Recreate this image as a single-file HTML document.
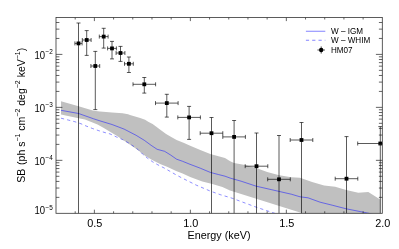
<!DOCTYPE html><html><head><meta charset="utf-8"><style>html,body{margin:0;padding:0;background:#fff}svg{display:block;will-change:transform}text{font-family:"Liberation Sans",sans-serif;fill:#000}</style></head><body>
<svg width="399" height="249" viewBox="0 0 399 249">
<rect width="399" height="249" fill="#fff"/>
<defs><clipPath id="c"><rect x="56.0" y="17.5" width="326.3" height="195.8"/></clipPath></defs>
<g clip-path="url(#c)">
<polygon fill="#c0c0c0" points="61,101.3 78.6,106.3 93.6,110.7 100,111.6 112,112.4 122.6,113.3 128.1,114.2 130,115 140.2,118.1 145.1,119.8 148.2,121.7 152.6,124 156,126.5 160.3,129.8 166.1,134 170.4,136.5 176.6,140 184.1,143 190.2,145.7 200.3,150.1 210.3,154.1 220.4,156.8 225,158.1 230.2,161.2 234,163.1 245.1,165.1 256.2,168.1 267.2,172.1 279.3,175.2 291.3,177.2 300,177.7 312.1,182.1 324.1,185.5 335.2,186.7 346.2,190.1 358.3,192.7 368.3,192.1 380.2,199.6 380.2,240 303,213.5 300,212.5 230,190.5 222.4,187.1 212.3,184.1 202.3,181.5 190.2,177 182.6,173.5 176.1,171 167.6,167.1 160.1,164.1 152.6,160.3 145,155.8 137.5,149.8 130.1,144.8 122.6,139.8 116.3,135.6 110,131.7 103.8,128.1 97.5,124.6 91.3,121.9 85,119.4 78.6,118.2 61,114.4"/>
<polyline fill="none" stroke="#1c1cff" stroke-width="0.55" points="61,110.3 78.6,113.5 93.6,118.8 100,120.9 112,124.5 124.1,129.1 136.1,135.3 144.3,140.3 151.1,145.3 157.1,149.3 164.6,151.3 170.6,155 176.6,159.2 182.6,161.3 190,164.3 200.3,168.2 210.3,172.4 218.3,174.5 225,176.2 230.2,178.1 241.1,181.2 256.2,186.2 271.2,189.6 279,191.4 291.3,194.2 300,196.8 308,197.8 320.1,202.2 332.2,205.2 346.2,208.8 360.3,211.6 368.3,213.2 380,216"/>
<polyline fill="none" stroke="#1c1cff" stroke-width="0.5" stroke-dasharray="3.2,3.1" points="61,118.2 68.5,120.1 74.8,121.7 81.1,123.8 86.1,126 92.5,128.5 98.8,130.7 105,132.6 110,133.9 116.3,136.9 122.6,139.6 130.1,143.8 138.3,149.8 142.8,154.3 147.3,158 152.6,161.8 157.8,164.8 163.8,167.8 169.1,170.8 175.1,174.3 182.2,178.1 196.2,185.1 210.3,191.1 220.4,194.7 230.2,197.6 232.6,198.4 256.3,207.2 274.7,213.3 285,217"/>
<path d="M78.5,23V218.3M74.9,43.4H82.1M76.5,23h4.0M74.9,41.4v4.0M82.1,41.4v4.0" stroke="#000" stroke-width="0.65" fill="none"/>
<rect x="76.6" y="41.5" width="3.8" height="3.8" fill="#000"/>
<path d="M86.7,30.6V55.4M82.3,40.0H91.10000000000001M84.7,30.6h4.0M82.3,38.0v4.0M91.10000000000001,38.0v4.0M84.7,55.4h4.0" stroke="#000" stroke-width="0.65" fill="none"/>
<rect x="84.8" y="38.1" width="3.8" height="3.8" fill="#000"/>
<path d="M95.3,51.4V109.6M90.89999999999999,66.0H99.7M93.3,51.4h4.0M90.89999999999999,64.0v4.0M99.7,64.0v4.0M93.3,109.6h4.0" stroke="#000" stroke-width="0.65" fill="none"/>
<rect x="93.39999999999999" y="64.1" width="3.8" height="3.8" fill="#000"/>
<path d="M103.7,28.3V48.1M99.3,36.6H108.10000000000001M101.7,28.3h4.0M99.3,34.6v4.0M108.10000000000001,34.6v4.0M101.7,48.1h4.0" stroke="#000" stroke-width="0.65" fill="none"/>
<rect x="101.8" y="34.7" width="3.8" height="3.8" fill="#000"/>
<path d="M112.0,41.4V58.9M107.6,48.4H116.4M110.0,41.4h4.0M107.6,46.4v4.0M116.4,46.4v4.0M110.0,58.9h4.0" stroke="#000" stroke-width="0.65" fill="none"/>
<rect x="110.1" y="46.5" width="3.8" height="3.8" fill="#000"/>
<path d="M120.5,46.4V61.4M116.1,53.0H124.9M118.5,46.4h4.0M116.1,51.0v4.0M124.9,51.0v4.0M118.5,61.4h4.0" stroke="#000" stroke-width="0.65" fill="none"/>
<rect x="118.6" y="51.1" width="3.8" height="3.8" fill="#000"/>
<path d="M128.9,57V72.5M124.5,63.8H133.3M126.9,57h4.0M124.5,61.8v4.0M133.3,61.8v4.0M126.9,72.5h4.0" stroke="#000" stroke-width="0.65" fill="none"/>
<rect x="127.0" y="61.9" width="3.8" height="3.8" fill="#000"/>
<path d="M144.3,77.5V93.1M133.0,84.3H155.60000000000002M142.3,77.5h4.0M133.0,82.3v4.0M155.60000000000002,82.3v4.0M142.3,93.1h4.0" stroke="#000" stroke-width="0.65" fill="none"/>
<rect x="142.4" y="82.39999999999999" width="3.8" height="3.8" fill="#000"/>
<path d="M166.8,94.3V117.1M155.5,103.1H178.10000000000002M164.8,94.3h4.0M155.5,101.1v4.0M178.10000000000002,101.1v4.0M164.8,117.1h4.0" stroke="#000" stroke-width="0.65" fill="none"/>
<rect x="164.9" y="101.19999999999999" width="3.8" height="3.8" fill="#000"/>
<path d="M189.1,106.4V139.4M177.79999999999998,117.4H200.4M187.1,106.4h4.0M177.79999999999998,115.4v4.0M200.4,115.4v4.0M187.1,139.4h4.0" stroke="#000" stroke-width="0.65" fill="none"/>
<rect x="187.2" y="115.5" width="3.8" height="3.8" fill="#000"/>
<path d="M211.5,117.5V218.3M200.2,133.2H222.8M209.5,117.5h4.0M200.2,131.2v4.0M222.8,131.2v4.0" stroke="#000" stroke-width="0.65" fill="none"/>
<rect x="209.6" y="131.29999999999998" width="3.8" height="3.8" fill="#000"/>
<path d="M234.1,120.5V218.3M222.79999999999998,136.9H245.4M232.1,120.5h4.0M222.79999999999998,134.9v4.0M245.4,134.9v4.0" stroke="#000" stroke-width="0.65" fill="none"/>
<rect x="232.2" y="135.0" width="3.8" height="3.8" fill="#000"/>
<path d="M256.5,133.0V218.3M245.2,166.2H267.8M254.5,133.0h4.0M245.2,164.2v4.0M267.8,164.2v4.0" stroke="#000" stroke-width="0.65" fill="none"/>
<rect x="254.6" y="164.29999999999998" width="3.8" height="3.8" fill="#000"/>
<path d="M279.0,135.5V218.3M267.7,179.3H290.3M277.0,135.5h4.0M267.7,177.3v4.0M290.3,177.3v4.0" stroke="#000" stroke-width="0.65" fill="none"/>
<rect x="277.1" y="177.4" width="3.8" height="3.8" fill="#000"/>
<path d="M301.5,122.5V218.3M290.2,140.0H312.8M299.5,122.5h4.0M290.2,138.0v4.0M312.8,138.0v4.0" stroke="#000" stroke-width="0.65" fill="none"/>
<rect x="299.6" y="138.1" width="3.8" height="3.8" fill="#000"/>
<path d="M346.5,136.6V218.3M335.2,178.7H357.8M344.5,136.6h4.0M335.2,176.7v4.0M357.8,176.7v4.0" stroke="#000" stroke-width="0.65" fill="none"/>
<rect x="344.6" y="176.79999999999998" width="3.8" height="3.8" fill="#000"/>
<path d="M380.3,126.6V218.3M357.7,143.5H402.90000000000003M378.3,126.6h4.0M357.7,141.5v4.0M402.90000000000003,141.5v4.0" stroke="#000" stroke-width="0.65" fill="none"/>
<rect x="378.40000000000003" y="141.6" width="3.8" height="3.8" fill="#000"/>
</g>
<path d="M75.19,213.3v-2.0M75.19,17.5v2.0M94.39,213.3v-3.6M94.39,17.5v3.6M113.58,213.3v-2.0M113.58,17.5v2.0M132.78,213.3v-2.0M132.78,17.5v2.0M151.97,213.3v-2.0M151.97,17.5v2.0M171.16,213.3v-2.0M171.16,17.5v2.0M190.36,213.3v-3.6M190.36,17.5v3.6M209.55,213.3v-2.0M209.55,17.5v2.0M228.75,213.3v-2.0M228.75,17.5v2.0M247.94,213.3v-2.0M247.94,17.5v2.0M267.14,213.3v-2.0M267.14,17.5v2.0M286.33,213.3v-3.6M286.33,17.5v3.6M305.52,213.3v-2.0M305.52,17.5v2.0M324.72,213.3v-2.0M324.72,17.5v2.0M343.91,213.3v-2.0M343.91,17.5v2.0M363.11,213.3v-2.0M363.11,17.5v2.0M56.0,197.36h3.4M382.3,197.36h-3.4M56.0,188.04h3.4M382.3,188.04h-3.4M56.0,181.42h3.4M382.3,181.42h-3.4M56.0,176.29h3.4M382.3,176.29h-3.4M56.0,172.09h3.4M382.3,172.09h-3.4M56.0,168.55h3.4M382.3,168.55h-3.4M56.0,165.47h3.4M382.3,165.47h-3.4M56.0,162.76h3.4M382.3,162.76h-3.4M56.0,160.34h6.4M382.3,160.34h-6.4M56.0,144.39h3.4M382.3,144.39h-3.4M56.0,135.07h3.4M382.3,135.07h-3.4M56.0,128.45h3.4M382.3,128.45h-3.4M56.0,123.32h3.4M382.3,123.32h-3.4M56.0,119.12h3.4M382.3,119.12h-3.4M56.0,115.58h3.4M382.3,115.58h-3.4M56.0,112.50h3.4M382.3,112.50h-3.4M56.0,109.79h3.4M382.3,109.79h-3.4M56.0,107.37h6.4M382.3,107.37h-6.4M56.0,91.42h3.4M382.3,91.42h-3.4M56.0,82.10h3.4M382.3,82.10h-3.4M56.0,75.48h3.4M382.3,75.48h-3.4M56.0,70.35h3.4M382.3,70.35h-3.4M56.0,66.15h3.4M382.3,66.15h-3.4M56.0,62.61h3.4M382.3,62.61h-3.4M56.0,59.53h3.4M382.3,59.53h-3.4M56.0,56.82h3.4M382.3,56.82h-3.4M56.0,54.40h6.4M382.3,54.40h-6.4M56.0,38.45h3.4M382.3,38.45h-3.4M56.0,29.13h3.4M382.3,29.13h-3.4M56.0,22.51h3.4M382.3,22.51h-3.4" stroke="#222" stroke-width="0.7" fill="none"/>
<rect x="56.0" y="17.5" width="326.3" height="195.8" fill="none" stroke="#333" stroke-width="0.8"/>
<text x="94.79" y="227.4" font-size="10.9" text-anchor="middle">0.5</text>
<text x="190.76" y="227.4" font-size="10.9" text-anchor="middle">1.0</text>
<text x="286.73" y="227.4" font-size="10.9" text-anchor="middle">1.5</text>
<text x="382.70" y="227.4" font-size="10.9" text-anchor="middle">2.0</text>
<text x="34.4" y="58.60" font-size="10.5" textLength="10.6" lengthAdjust="spacingAndGlyphs">10</text>
<text x="45.5" y="54.00" font-size="6.8" textLength="7.3" lengthAdjust="spacingAndGlyphs">−2</text>
<text x="34.4" y="111.57" font-size="10.5" textLength="10.6" lengthAdjust="spacingAndGlyphs">10</text>
<text x="45.5" y="106.97" font-size="6.8" textLength="7.3" lengthAdjust="spacingAndGlyphs">−3</text>
<text x="34.4" y="164.54" font-size="10.5" textLength="10.6" lengthAdjust="spacingAndGlyphs">10</text>
<text x="45.5" y="159.94" font-size="6.8" textLength="7.3" lengthAdjust="spacingAndGlyphs">−4</text>
<text x="34.4" y="214.10" font-size="10.5" textLength="10.6" lengthAdjust="spacingAndGlyphs">10</text>
<text x="45.5" y="209.50" font-size="6.8" textLength="7.3" lengthAdjust="spacingAndGlyphs">−5</text>
<text x="219" y="239.3" font-size="10.8" text-anchor="middle">Energy (keV)</text>
<text transform="translate(24.9,115.2) rotate(-90)" font-size="10.5" text-anchor="middle">SB<tspan dx="0.8"> (ph s</tspan><tspan font-size="7" dy="-5.1">−1</tspan><tspan dy="5.1"> cm</tspan><tspan font-size="7" dy="-5.1">−2</tspan><tspan dy="5.1"> deg</tspan><tspan font-size="7" dy="-5.1">−2</tspan><tspan dy="5.1"> keV</tspan><tspan font-size="7" dy="-5.1">−1</tspan><tspan dy="5.1">)</tspan></text>
<path d="M305.9,31.25H325.3" stroke="#1c1cff" stroke-width="0.55"/>
<path d="M305.9,40.25H325.3" stroke="#1c1cff" stroke-width="0.55" stroke-dasharray="3.2,3.1"/>
<path d="M317.4,50h7.6M321.2,46.4v7.2" stroke="#111" stroke-width="0.7"/><circle cx="321.2" cy="50" r="2.2" fill="#000"/>
<text x="331.0" y="33.9" font-size="9.4" textLength="32" lengthAdjust="spacingAndGlyphs">W – IGM</text>
<text x="331.0" y="43.0" font-size="9.4" textLength="39.2" lengthAdjust="spacingAndGlyphs">W – WHIM</text>
<text x="331.0" y="52.6" font-size="9.4" textLength="21.6" lengthAdjust="spacingAndGlyphs">HM07</text>
</svg></body></html>
